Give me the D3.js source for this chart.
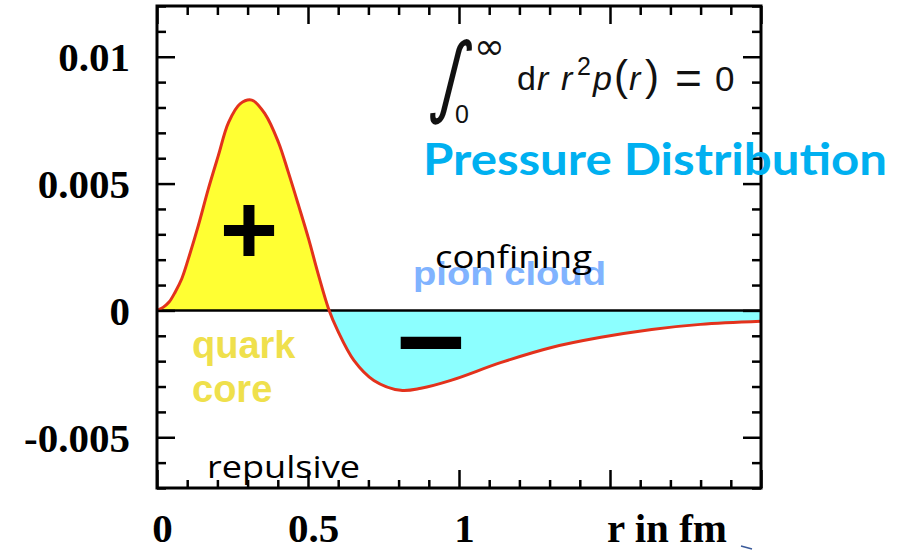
<!DOCTYPE html>
<html>
<head>
<meta charset="utf-8">
<script src="https://cdn.jsdelivr.net/npm/d3@7"></script>
<style>
  html, body { margin: 0; padding: 0; background: #ffffff; }
  svg { display: block; }
</style>
</head>
<body>
<svg id="chart" width="910" height="550"></svg>
<script>
// ---- data ----
const rValues = [0, 0.02, 0.04, 0.06, 0.082, 0.104, 0.137, 0.17, 0.203, 0.237, 0.275, 0.314, 0.358, 0.402, 0.435, 0.469, 0.502, 0.535, 0.568, 0.598, 0.652, 0.718, 0.807, 0.874, 0.973, 1.14, 1.306, 1.47, 1.638, 1.8, 2.0];
const pValues = [0, 0.00012, 0.00033, 0.00072, 0.00125, 0.00204, 0.00335, 0.00479, 0.0061, 0.00741, 0.00814, 0.00829, 0.00774, 0.00663, 0.00544, 0.00413, 0.00282, 0.00138, 0.00007, -0.00079, -0.00197, -0.00276, -0.00315, -0.00307, -0.00276, -0.00205, -0.00146, -0.00106, -0.00075, -0.00055, -0.00043];
const yMajorTicks = [-0.005, 0, 0.005, 0.01];
const yTickLabels = ["-0.005", "0", "0.005", "0.01"];
const xMajorTicks = [0, 0.5, 1, 1.5, 2];
const xTickLabels = ["0", "0.5", "1", "", ""];
const xDomain = [0, 2];
const yDomain = [-0.007, 0.012];

const svg = d3.select("#chart");
const L = 157, R = 761, T = 6, B = 488;
const x = d3.scaleLinear().domain(xDomain).range([L, R]);
const y = d3.scaleLinear().domain(yDomain).range([B, T]);

const data = rValues.map((r, i) => ({ r, p: pValues[i] }));
const y0 = y(0);

const defs = svg.append("defs");
defs.append("clipPath").attr("id", "clipPos").append("rect")
  .attr("x", L).attr("y", T).attr("width", R - L).attr("height", y0 - T);
defs.append("clipPath").attr("id", "clipNeg").append("rect")
  .attr("x", L).attr("y", y0).attr("width", R - L).attr("height", B - y0);

const area = d3.area().x(d => x(d.r)).y0(y0).y1(d => y(d.p)).curve(d3.curveCatmullRom);
const line = d3.line().x(d => x(d.r)).y(d => y(d.p)).curve(d3.curveCatmullRom);

svg.append("path").datum(data).attr("d", area).attr("fill", "#ffff33").attr("clip-path", "url(#clipPos)");
svg.append("path").datum(data).attr("d", area).attr("fill", "#8cffff").attr("clip-path", "url(#clipNeg)");

// zero line
svg.append("line").attr("x1", L).attr("x2", R).attr("y1", y0).attr("y2", y0)
  .attr("stroke", "#000").attr("stroke-width", 2.5);

// curve
svg.append("path").datum(data).attr("d", line).attr("fill", "none")
  .attr("stroke", "#e3321c").attr("stroke-width", 3).attr("stroke-linejoin", "round");

// ---- axes (ticks inward) ----
const minorY = d3.range(-7, 13).map(v => v * 0.001).filter(v => !yMajorTicks.some(m => Math.abs(m - v) < 1e-9));
const minorX = d3.range(0, 21).map(v => v * 0.1).filter(v => !xMajorTicks.some(m => Math.abs(m - v) < 1e-9));

function styleAxis(g) {
  g.select(".domain").remove();
  g.selectAll(".tick line").attr("stroke", "#000").attr("stroke-width", 2.5);
}

// left major with labels
const gLeft = svg.append("g").attr("transform", `translate(${L},0)`)
  .call(d3.axisLeft(y).tickValues(yMajorTicks).tickSize(-18).tickPadding(27)
    .tickFormat((d, i) => yTickLabels[i]));
styleAxis(gLeft);
gLeft.selectAll(".tick text")
  .attr("font-family", "'Liberation Serif', 'Times New Roman', serif")
  .attr("font-weight", "bold").attr("font-size", 41).attr("fill", "#000")
  .attr("dy", "0.34em");
svg.append("g").attr("transform", `translate(${L},0)`)
  .call(d3.axisLeft(y).tickValues(minorY).tickSize(-9).tickFormat(""))
  .call(styleAxis);

// right
svg.append("g").attr("transform", `translate(${R},0)`)
  .call(d3.axisRight(y).tickValues(yMajorTicks).tickSize(-18).tickFormat(""))
  .call(styleAxis);
svg.append("g").attr("transform", `translate(${R},0)`)
  .call(d3.axisRight(y).tickValues(minorY).tickSize(-9).tickFormat(""))
  .call(styleAxis);

// bottom major with labels
const gBottom = svg.append("g").attr("transform", `translate(0,${B})`)
  .call(d3.axisBottom(x).tickValues(xMajorTicks).tickSize(-18)
    .tickFormat((d, i) => xTickLabels[i]));
styleAxis(gBottom);
gBottom.selectAll(".tick text")
  .attr("font-family", "'Liberation Serif', 'Times New Roman', serif")
  .attr("font-weight", "bold").attr("font-size", 41).attr("fill", "#000")
  .attr("y", 54).attr("dy", 0).attr("x", 5);
svg.append("g").attr("transform", `translate(0,${B})`)
  .call(d3.axisBottom(x).tickValues(minorX).tickSize(-8).tickFormat(""))
  .call(styleAxis);

// top
svg.append("g").attr("transform", `translate(0,${T})`)
  .call(d3.axisTop(x).tickValues(xMajorTicks).tickSize(-18).tickFormat(""))
  .call(styleAxis);
svg.append("g").attr("transform", `translate(0,${T})`)
  .call(d3.axisTop(x).tickValues(minorX).tickSize(-9).tickFormat(""))
  .call(styleAxis);

// frame
svg.append("rect").attr("x", L).attr("y", T).attr("width", R - L).attr("height", B - T)
  .attr("fill", "none").attr("stroke", "#000").attr("stroke-width", 3);

// axis title
svg.append("text").attr("x", 607).attr("y", 542)
  .attr("font-family", "'Liberation Serif', 'Times New Roman', serif")
  .attr("font-weight", "bold").attr("font-size", 41).attr("fill", "#000")
  .text("r in fm");

// ---- annotations ----
// signs
svg.append("text").attr("x", 249).attr("y", 264).attr("text-anchor", "middle")
  .attr("font-family", "'Liberation Sans', Arial, sans-serif").attr("font-weight", "bold")
  .attr("font-size", 100).attr("fill", "#000").text("+");
svg.append("text").attr("x", 431).attr("y", 376).attr("text-anchor", "middle")
  .attr("font-family", "'Liberation Sans', Arial, sans-serif").attr("font-weight", "bold")
  .attr("font-size", 122).attr("fill", "#000").text("–");

// quark core
const qc = svg.append("g").attr("font-family", "'Liberation Sans', Arial, sans-serif")
  .attr("font-weight", "bold").attr("font-size", 38).attr("fill", "#efe04c");
qc.append("text").attr("x", 192).attr("y", 358).text("quark");
qc.append("text").attr("x", 192).attr("y", 402).text("core");

// pion cloud
svg.append("text").attr("x", 413).attr("y", 285)
  .attr("font-family", "'Liberation Sans', Arial, sans-serif").attr("font-weight", "bold")
  .attr("font-size", 33).attr("fill", "#80b3ff")
  .attr("textLength", 193).attr("lengthAdjust", "spacingAndGlyphs").text("pion cloud");

// confining / repulsive
svg.append("text").attr("x", 435).attr("y", 268)
  .attr("font-family", "'Open Sans', 'Noto Sans', sans-serif").attr("font-size", 31).attr("fill", "#000")
  .attr("textLength", 157).attr("lengthAdjust", "spacingAndGlyphs").text("confining");
svg.append("text").attr("x", 207).attr("y", 478)
  .attr("font-family", "'Open Sans', 'Noto Sans', sans-serif").attr("font-size", 31).attr("fill", "#000")
  .attr("textLength", 153).attr("lengthAdjust", "spacingAndGlyphs").text("repulsive");

// title
svg.append("text").attr("x", 423).attr("y", 175)
  .attr("font-family", "Lato, 'Open Sans', sans-serif").attr("font-weight", "bold")
  .attr("font-size", 44).attr("fill", "#00b0f0")
  .attr("textLength", 464).attr("lengthAdjust", "spacingAndGlyphs").text("Pressure Distribution");

// formula
const f = svg.append("g").attr("fill", "#111").attr("font-family", "'Liberation Sans', Arial, sans-serif");
f.append("g").attr("transform", "translate(428,106) skewX(-12) scale(0.8,1.03)")
  .append("text").attr("x", 0).attr("y", 0).attr("font-family", "'DejaVu Sans', sans-serif")
  .attr("font-weight", "normal").attr("font-size", 86).text("∫");
f.append("text").attr("x", 474).attr("y", 59).attr("font-family", "'DejaVu Sans', sans-serif")
  .attr("font-size", 37).text("∞");
f.append("text").attr("x", 455).attr("y", 123).attr("font-size", 25).text("0");
const fm = f.append("text").attr("y", 90).attr("font-size", 34);
fm.append("tspan").attr("x", 517).text("d");
fm.append("tspan").attr("x", 537).attr("font-style", "italic").text("r");
fm.append("tspan").attr("x", 561).attr("font-style", "italic").text("r");
f.append("text").attr("x", 577).attr("y", 75).attr("font-size", 25).text("2");
const fm2 = f.append("text").attr("y", 90).attr("font-size", 34);
fm2.append("tspan").attr("x", 593).attr("font-style", "italic").text("p");
fm2.append("tspan").attr("x", 614).attr("font-size", 42).text("(");
fm2.append("tspan").attr("x", 629).attr("font-style", "italic").text("r");
fm2.append("tspan").attr("x", 645).attr("font-size", 42).text(")");
f.append("text").attr("x", 675).attr("y", 94).attr("font-size", 46).text("=");
f.append("text").attr("x", 715).attr("y", 91).attr("font-size", 35).text("0");

// small arrow fragment at bottom right
svg.append("line").attr("x1", 741).attr("y1", 546).attr("x2", 752).attr("y2", 549)
  .attr("stroke", "#3a5a9a").attr("stroke-width", 1.5);
</script>
</body>
</html>
